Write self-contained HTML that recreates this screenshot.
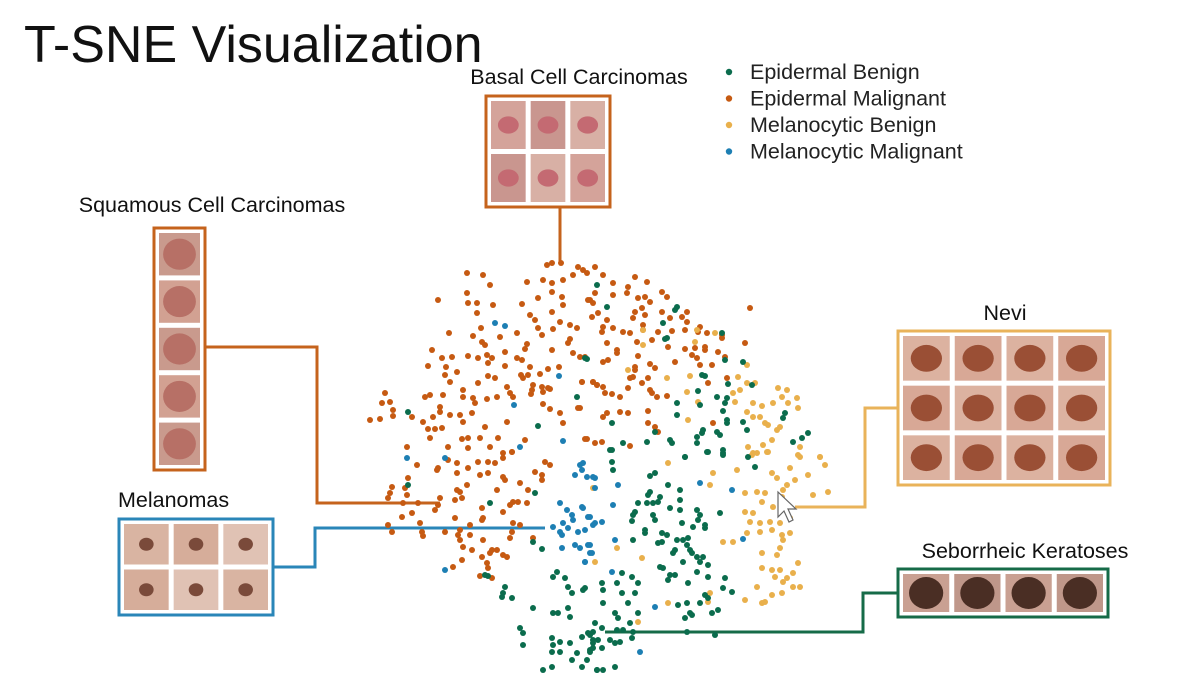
<!DOCTYPE html>
<html><head><meta charset="utf-8">
<style>
html,body{margin:0;padding:0;background:#fff;}
body{width:1183px;height:679px;overflow:hidden;font-family:"Liberation Sans",Arial,sans-serif;}
</style></head>
<body>
<svg id="chart" width="1183" height="679" viewBox="0 0 1183 679" xmlns="http://www.w3.org/2000/svg">
<text x="24" y="62" font-size="52" fill="#111" font-family="Liberation Sans, sans-serif">T-SNE Visualization</text>
<g id="connectors" fill="none" stroke-width="3">
<polyline points="560,207 560,262" stroke="#c5631c"/>
<polyline points="205,347 317,347 317,503 440,503" stroke="#c5631c"/>
<polyline points="273,567 315,567 315,528 545,528" stroke="#2a86b8"/>
<polyline points="897,408 865,408 865,507 795,507" stroke="#e9b35a"/>
<polyline points="897,593 863,593 863,632 605,632" stroke="#166b48"/>
</g>
<g id="points"></g>
<g id="panels"></g>
<g id="legend" font-size="21.5" fill="#222"></g>
<path d="M778,492 L778,517 L784,511 L789,522 L793,520 L788,509 L796,509 Z" fill="#fff" stroke="#666" stroke-width="1.2"/>
</svg>
<script>
const categories=["Epidermal Benign","Epidermal Malignant","Melanocytic Benign","Melanocytic Malignant"];
const epidermalMalignant=[[561,263],[552,263],[547,265],[467,273],[483,275],[490,285],[527,282],[543,280],[552,283],[563,280],[573,275],[578,267],[587,273],[467,293],[468,303],[477,303],[438,300],[493,305],[477,313],[522,304],[538,298],[552,292],[562,297],[563,305],[590,300],[530,315],[535,320],[552,312],[560,322],[570,325],[577,328],[553,329],[538,328],[517,333],[500,337],[481,328],[449,333],[473,336],[482,342],[485,345],[525,349],[527,344],[542,335],[570,339],[568,343],[552,350],[505,352],[432,350],[442,358],[452,357],[468,356],[478,358],[487,355],[492,358],[517,358],[522,360],[505,366],[488,363],[428,366],[446,367],[457,372],[445,375],[573,353],[580,357],[530,367],[548,369],[559,367],[521,375],[528,375],[540,374],[450,382],[488,376],[478,383],[495,378],[507,387],[523,378],[533,385],[542,387],[548,388],[582,382],[593,382],[597,385],[385,393],[390,402],[382,403],[393,410],[370,420],[380,419],[393,416],[412,417],[425,397],[430,395],[443,395],[463,390],[463,397],[473,398],[475,403],[487,399],[497,397],[510,393],[513,397],[532,390],[531,394],[543,392],[550,389],[440,407],[440,412],[450,415],[460,415],[472,413],[433,417],[423,422],[428,429],[435,429],[442,428],[463,422],[485,427],[507,422],[543,404],[550,409],[560,413],[563,423],[578,408],[407,447],[430,438],[448,447],[462,439],[468,438],[468,448],[480,438],[490,447],[498,438],[503,453],[512,452],[525,440],[587,439],
[595,267],[583,270],[603,275],[613,283],[635,277],[647,282],[628,287],[595,293],[588,300],[593,303],[613,295],[627,293],[638,298],[645,297],[650,302],[662,292],[667,297],[635,312],[642,308],[645,315],[633,318],[662,312],[670,318],[682,317],[687,312],[687,322],[598,313],[592,317],[607,320],[603,327],[602,332],[613,328],[623,332],[630,333],[643,325],[643,330],[652,340],[658,332],[672,331],[685,330],[700,327],[698,332],[707,333],[722,335],[722,338],[750,308],[745,343],[637,342],[607,343],[617,350],[617,353],[585,357],[603,362],[608,360],[638,356],[650,364],[655,368],[675,362],[668,347],[685,349],[695,348],[705,347],[705,350],[692,355],[697,358],[700,365],[712,365],[718,352],[725,357],[635,367],[635,370],[630,378],[633,377],[648,378],[642,383],[582,382],[593,382],[597,385],[603,387],[605,393],[612,394],[620,397],[650,390],[652,393],[657,397],[667,396],[628,388],[727,378],[708,383],[580,408],[607,413],[603,417],[620,412],[628,413],[648,411],[648,423],[655,427],[658,432],[713,423],[585,439],[595,443],[602,442],[630,446],
[417,465],[438,468],[437,470],[448,460],[457,463],[468,468],[478,462],[488,462],[495,463],[503,458],[512,452],[457,473],[480,475],[488,473],[503,477],[505,480],[545,462],[550,465],[535,472],[542,475],[542,480],[408,478],[392,487],[390,493],[388,498],[405,488],[407,495],[403,503],[418,503],[440,498],[438,505],[435,510],[457,490],[460,492],[467,485],[455,500],[462,498],[520,483],[528,490],[497,490],[513,502],[518,502],[510,505],[503,512],[527,503],[482,508],[482,520],[483,518],[455,518],[412,513],[402,517],[388,525],[392,532],[420,523],[422,532],[423,536],[445,532],[458,535],[460,530],[470,525],[470,535],[460,540],[463,547],[472,550],[483,540],[492,550],[497,550],[490,553],[503,555],[507,557],[513,523],[520,525],[512,532],[510,538],[533,538],[482,557],[487,563],[488,568],[462,560],[453,567],[480,576],[492,578]];
const epidermalBenign=[[597,285],[587,359],[577,397],[408,412],[538,426],[607,307],[677,307],[675,310],[663,323],[667,338],[665,339],[722,333],[725,360],[743,362],[585,358],[702,375],[705,376],[728,384],[752,385],[698,391],[717,397],[727,398],[725,403],[677,403],[677,415],[700,405],[723,411],[727,420],[727,423],[743,422],[747,430],[785,413],[783,418],[612,423],[655,432],[670,440],[672,443],[697,437],[703,430],[702,433],[717,432],[720,435],[697,443],[647,442],[623,443],[610,450],[708,452],[723,450],[723,455],[793,442],[802,438],[808,433],[685,457],
[408,485],[490,503],[535,493],[533,542],[542,549],[485,575],[488,576],[505,587],[503,593],[502,597],[512,598],[553,577],[557,572],[565,578],[568,587],[572,593],[583,590],[553,613],[558,613],[568,608],[570,617],[533,608],[520,628],[523,633],[523,645],[552,638],[553,645],[560,642],[570,643],[552,652],[560,652],[572,660],[577,653],[582,637],[588,633],[593,632],[593,643],[590,650],[598,640],[582,667],[597,670],[552,667],[543,670],
[612,450],[612,462],[613,470],[685,457],[723,453],[707,452],[755,467],[748,457],[655,473],[650,476],[668,485],[680,490],[650,492],[648,495],[660,497],[658,502],[638,503],[647,503],[653,503],[670,508],[680,500],[680,510],[635,512],[633,515],[632,521],[653,515],[655,520],[697,510],[700,515],[698,520],[720,513],[682,523],[705,525],[705,528],[693,527],[662,533],[667,535],[645,530],[645,533],[633,540],[658,543],[662,542],[677,540],[683,540],[688,538],[687,545],[690,550],[675,550],[673,553],[692,553],[697,557],[703,557],[700,562],[708,565],[683,562],[660,567],[663,568],[670,575],[675,575],[668,580],[697,572],[708,577],[725,578],[688,583],[622,573],[632,577],[638,583],[617,583],[602,583],[603,590],[585,588],[622,593],[635,593],[723,588],[732,592],[705,595],[700,603],[708,598],[678,605],[687,603],[690,613],[692,615],[685,618],[712,613],[718,610],[628,603],[615,613],[618,618],[638,613],[603,603],[595,623],[602,628],[617,630],[623,630],[630,623],[633,632],[590,635],[593,640],[610,640],[615,643],[620,642],[632,638],[593,648],[590,652],[602,648],[597,670],[603,670],[615,667],[587,660],[687,632],[715,635]];
const melanocyticBenign=[[643,330],[643,345],[628,370],[667,378],[690,376],[697,330],[695,342],[715,333],[747,365],[738,377],[747,383],[755,383],[740,390],[733,393],[687,392],[735,402],[698,402],[753,403],[762,406],[778,388],[787,390],[782,397],[797,398],[788,403],[798,408],[773,403],[747,412],[753,417],[760,417],[688,420],[765,423],[768,425],[777,430],[780,427],[772,440],[763,445],[753,453],[767,452],[748,447],[800,447],[820,457],[798,455],
[668,463],[752,455],[757,453],[768,452],[800,457],[820,457],[825,465],[790,468],[772,473],[777,478],[795,480],[808,475],[737,470],[713,473],[710,485],[787,485],[783,490],[745,493],[757,492],[765,493],[762,502],[773,507],[782,497],[828,492],[813,495],[745,512],[753,513],[750,522],[760,523],[770,522],[780,523],[790,518],[772,530],[760,532],[747,533],[782,535],[790,533],[723,542],[733,542],[783,540],[780,548],[777,555],[762,553],[642,558],[617,548],[595,562],[762,568],[772,570],[780,570],[798,563],[793,573],[787,578],[783,582],[793,587],[800,587],[775,577],[757,587],[782,593],[772,595],[765,602],[762,603],[745,600],[710,593],[708,602],[668,603],[638,622],[593,488]];
const melanocyticMalignant=[[495,323],[505,326],[559,376],[514,405],[563,441],[520,447],[407,458],[445,458],[580,465],[582,470],[575,475],[587,477],[595,478],[560,503],[567,510],[572,515],[573,520],[582,507],[590,517],[563,523],[553,527],[560,532],[568,528],[578,532],[593,525],[562,535],[562,548],[575,545],[580,548],[590,545],[585,562],[590,553],[445,570],[583,463],[593,477],[595,488],[618,485],[613,505],[583,508],[588,517],[595,523],[602,522],[585,530],[615,540],[588,545],[592,553],[585,562],[612,572],[700,483],[732,490],[743,539],[655,607],[640,652]];
const seriesColors=["#0b6c4d","#c65a12","#e9b04c","#1d7fb3"];

const NS="http://www.w3.org/2000/svg";
const xScale=v=>0+(v-0)*(1183/1183);
const yScale=v=>0+(v-0)*(679/679);
const gPts=document.getElementById('points');
function drawSeries(data,color,nm){
  data.forEach(function(p){
    const c=document.createElementNS(NS,'circle');
    c.setAttribute('cx',xScale(p[0]));c.setAttribute('cy',yScale(p[1]));
    c.setAttribute('r',3);c.setAttribute('fill',color);
    
    
    gPts.appendChild(c);
  });
}
drawSeries(epidermalMalignant,seriesColors[1],'epidermal-malignant-point');
drawSeries(melanocyticBenign,seriesColors[2],'melanocytic-benign-point');
drawSeries(epidermalBenign,seriesColors[0],'epidermal-benign-point');
drawSeries(melanocyticMalignant,seriesColors[3],'melanocytic-malignant-point');

const gL=document.getElementById('legend');
categories.forEach(function(name,i){
  const y=72+i*26.5;
  const c=document.createElementNS(NS,'circle');
  c.setAttribute('cx',729);c.setAttribute('cy',y);c.setAttribute('r',3.2);c.setAttribute('fill',seriesColors[i]);
  
  
  gL.appendChild(c);
  const t=document.createElementNS(NS,'text');
  t.setAttribute('x',750);t.setAttribute('y',y+7);t.textContent=name;
  
  
  gL.appendChild(t);
});

const gP=document.getElementById('panels');
function panel(nm,label,lx,ly,x,y,w,h,cols,rows,border,skin,blob,anchor){
  const t=document.createElementNS(NS,'text');
  t.setAttribute('x',lx);t.setAttribute('y',ly);t.setAttribute('font-size','21.5');t.setAttribute('fill','#111');
  t.setAttribute('text-anchor',anchor||'start');t.textContent=label;
  
  
  gP.appendChild(t);
  const r=document.createElementNS(NS,'rect');
  r.setAttribute('x',x);r.setAttribute('y',y);r.setAttribute('width',w);r.setAttribute('height',h);
  r.setAttribute('fill','#fff');r.setAttribute('stroke',border);r.setAttribute('stroke-width',3);
  
  
  gP.appendChild(r);
  const pad=5,gap=5;
  const cw=(w-2*pad-(cols-1)*gap)/cols, ch=(h-2*pad-(rows-1)*gap)/rows;
  for(let j=0;j<rows;j++)for(let i=0;i<cols;i++){
    const tx=x+pad+i*(cw+gap), ty=y+pad+j*(ch+gap);
    const s=document.createElementNS(NS,'rect');
    s.setAttribute('x',tx);s.setAttribute('y',ty);s.setAttribute('width',cw);s.setAttribute('height',ch);
    s.setAttribute('fill',skin[(i+j)%skin.length]);
    
    
    gP.appendChild(s);
    const e=document.createElementNS(NS,'ellipse');
    e.setAttribute('cx',tx+cw/2);e.setAttribute('cy',ty+ch/2);
    e.setAttribute('rx',Math.min(cw,ch)*blob[1]);e.setAttribute('ry',Math.min(cw,ch)*blob[2]);
    e.setAttribute('fill',blob[0]);
    
    
    gP.appendChild(e);
  }
}
panel('basal','Basal Cell Carcinomas',579,84,486,96,124,111,3,2,'#c5631c',['#d4a39a','#c9968f','#d8b0a5'],['#c46a72',0.3,0.25],'middle');
panel('squamous','Squamous Cell Carcinomas',212,212,154,228,51,242,1,5,'#c5631c',['#c99a8d','#d2a192'],['#b77066',0.4,0.38],'middle');
panel('melanoma','Melanomas',118,507,119,519,154,96,3,2,'#2a86b8',['#d9b4a2','#d6ad9a','#e0c2b4'],['#7a4a3a',0.18,0.16],'start');
panel('nevi','Nevi',1005,320,898,331,212,154,4,3,'#e9b35a',['#dcb2a0','#d8a896'],['#9a4f35',0.35,0.3],'middle');
panel('seborrheic','Seborrheic Keratoses',1025,558,898,569,210,48,4,1,'#166b48',['#c9a092','#bf978a'],['#4a2e24',0.45,0.42],'middle');
</script>
</body></html>
